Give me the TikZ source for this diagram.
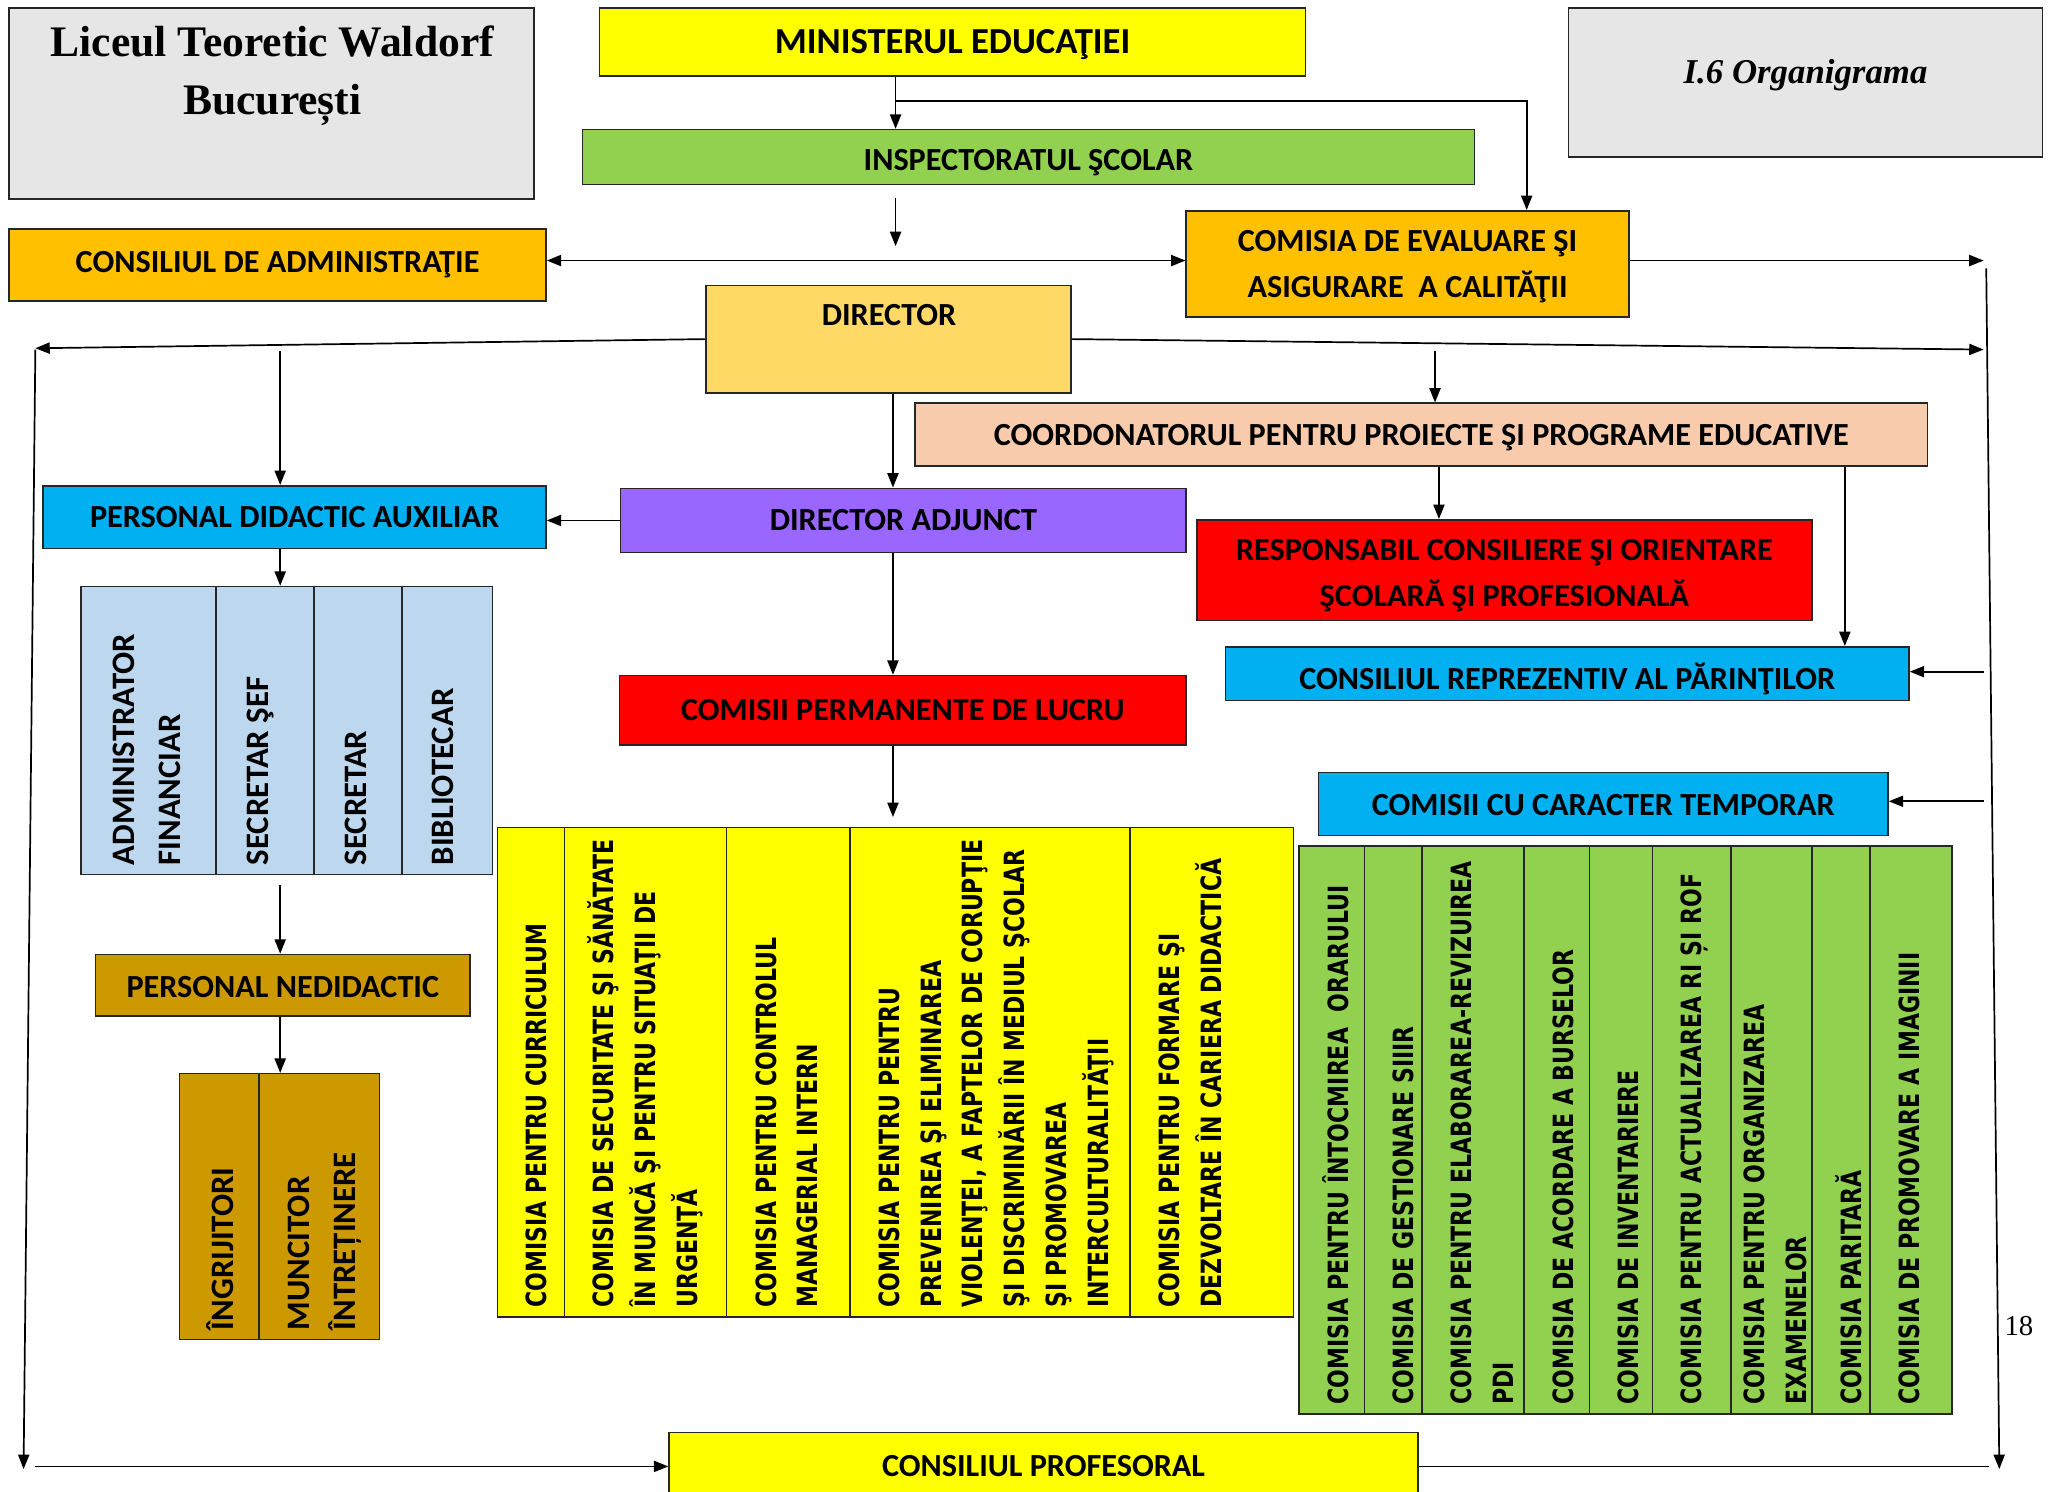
\documentclass[tikz,border=0pt]{standalone}
\usepackage{fontspec}
\setmainfont{Carlito}
\newfontfamily\dvs{DejaVu Sans}[FakeStretch=0.79]
\newfontfamily\tms{Liberation Serif}
\usetikzlibrary{arrows.meta}
\definecolor{cgray}{HTML}{E6E6E6}
\definecolor{cyel}{HTML}{FFFF00}
\definecolor{cgreen}{HTML}{92D050}
\definecolor{corange}{HTML}{FFC000}
\definecolor{cdir}{HTML}{FFD966}
\definecolor{cpeach}{HTML}{F8CBAD}
\definecolor{cblue}{HTML}{00B0F0}
\definecolor{cviolet}{HTML}{9966FF}
\definecolor{cred}{HTML}{FF0000}
\definecolor{clblue}{HTML}{BDD7EE}
\definecolor{cbrown}{HTML}{CC9900}
\tikzset{
 box/.style={draw=black!85, line width=1.2pt, rectangle, inner sep=0pt},
 btxt/.style={inner sep=0pt, align=center, font=\bfseries\fontsize{24.6}{35}\selectfont},
 colbox/.style={draw=black!85, line width=1.2pt, rectangle, inner sep=0pt},
 ptxt/.style={font=\dvs\bfseries\fontsize{21.3}{32}\selectfont, rotate=90, anchor=north west, inner sep=0pt, align=left},
 atxt/.style={font=\bfseries\fontsize{25}{35}\selectfont, rotate=90, anchor=north west, inner sep=0pt, align=left},
 con/.style={line width=1.3pt, draw=black},
 arr/.style={con, -{Triangle[length=11pt,width=8.5pt]}},
 arrb/.style={con, {Triangle[length=11pt,width=8.5pt]}-{Triangle[length=11pt,width=8.5pt]}},
}
\newcommand\bxe[6]{\node[box, fill=#6, minimum width=#3-#2, minimum height=#5-#4] (#1) at ({(#2+#3)/2},{(#4+#5)/2}) {};}
\newcommand\bx[8]{\bxe{#1}{#2}{#3}{#4}{#5}{#6}
 \node[btxt, yshift={-(#7)*1pt}] (#1t) at (#1.center) {#8};}
\newcommand\cl[9]{\node[colbox, fill=#6, minimum width=#3-#2, minimum height=#5-#4] (#1) at ({(#2+#3)/2},{(#4+#5)/2}) {};
 \node[#7] (#1t) at ({#2+#8},{#5-7}) {\rule{0pt}{1em}#9};}
\begin{document}
\begin{tikzpicture}[x=1pt,y=-1pt]
\useasboundingbox (0,0) rectangle (1568,1139);
% title boxes
\bxe{lic}{7}{408}{6}{152}{cgray}
\node[font=\tms\bfseries\fontsize{33.3}{44}\selectfont, align=center] (lict) at (208,58) {Liceul Teoretic Waldorf\\București};
\bxe{org}{1198}{1560}{6}{120}{cgray}
\node[font=\tms\bfseries\itshape\fontsize{26.6}{30}\selectfont] (orgt) at (1379,57) {I.6 Organigrama};
% main boxes
\bx{min}{458}{997}{6}{58}{cyel}{2}{\fontsize{28}{30}\selectfont MINISTERUL EDUCAŢIEI}
\bx{insp}{445}{1126}{99}{141}{cgreen}{4}{INSPECTORATUL ŞCOLAR}
\bx{cadm}{7}{417}{175}{230}{corange}{0}{CONSILIUL DE ADMINISTRAŢIE}
\bx{ceac}{906}{1244}{161}{242}{corange}{2}{COMISIA DE EVALUARE ŞI\\ASIGURARE\ \ A CALITĂŢII}
\bxe{dir}{539}{818}{218}{300}{cdir}
\node[btxt] (dirt) at (679,241) {DIRECTOR};
\bx{coord}{699}{1472}{308}{356}{cpeach}{2}{COORDONATORUL PENTRU PROIECTE ŞI PROGRAME EDUCATIVE}
\bx{pda}{33}{417}{371}{419}{cblue}{0}{PERSONAL DIDACTIC AUXILIAR}
\bx{dadj}{474}{906}{373}{422}{cviolet}{0}{DIRECTOR ADJUNCT}
\bx{resp}{914}{1384}{397}{474}{cred}{4}{RESPONSABIL CONSILIERE ŞI ORIENTARE\\ŞCOLARĂ ŞI PROFESIONALĂ}
\bx{crp}{936}{1458}{494}{535}{cblue}{4}{CONSILIUL REPREZENTIV AL PĂRINŢILOR}
\bx{cpl}{473}{906}{516}{569}{cred}{0}{COMISII PERMANENTE DE LUCRU}
\bx{pn}{73}{359}{729}{776}{cbrown}{1}{PERSONAL NEDIDACTIC}
\bx{cct}{1007}{1442}{590}{638}{cblue}{1}{COMISII CU CARACTER TEMPORAR}
\bx{cprof}{511}{1083}{1094}{1145}{cyel}{0}{CONSILIUL PROFESORAL}
% auxiliary columns
\cl{aux1}{62}{165}{448}{668}{clblue}{atxt}{15.5}{ADMINISTRATOR\\FINANCIAR}
\cl{aux2}{165}{240}{448}{668}{clblue}{atxt}{14.5}{SECRETAR ŞEF}
\cl{aux3}{240}{307}{448}{668}{clblue}{atxt}{14.5}{SECRETAR}
\cl{aux4}{307}{376}{448}{668}{clblue}{atxt}{14.5}{BIBLIOTECAR}
% nedidactic columns
\cl{ned1}{137}{198}{820}{1023}{cbrown}{atxt}{16.5}{ÎNGRIJITORI}
\cl{ned2}{198}{290}{820}{1023}{cbrown}{atxt}{13.5}{MUNCITOR\\ÎNTREȚINERE}
% permanent commissions
\cl{per1}{380}{431}{632}{1006}{cyel}{ptxt}{16.2}{COMISIA PENTRU CURRICULUM}
\cl{per2}{431}{555}{632}{1006}{cyel}{ptxt}{16.2}{COMISIA DE SECURITATE ŞI SĂNĂTATE\\ÎN MUNCĂ ŞI PENTRU SITUAŢII DE\\URGENŢĂ}
\cl{per3}{555}{649}{632}{1006}{cyel}{ptxt}{16.2}{COMISIA PENTRU CONTROLUL\\MANAGERIAL INTERN}
\cl{per4}{649}{863}{632}{1006}{cyel}{ptxt}{16.2}{COMISIA PENTRU PENTRU\\PREVENIREA ŞI ELIMINAREA\\VIOLENŢEI, A FAPTELOR DE CORUPŢIE\\ŞI DISCRIMINĂRII ÎN MEDIUL ŞCOLAR\\ŞI PROMOVAREA\\INTERCULTURALITĂŢII}
\cl{per5}{863}{988}{632}{1006}{cyel}{ptxt}{16.2}{COMISIA PENTRU FORMARE ŞI\\DEZVOLTARE ÎN CARIERA DIDACTICĂ}
% temporary commissions
\cl{tmp1}{992}{1042}{646}{1080}{cgreen}{ptxt}{16.2}{COMISIA PENTRU ÎNTOCMIREA\ \ ORARULUI}
\cl{tmp2}{1042}{1086}{646}{1080}{cgreen}{ptxt}{16.2}{COMISIA DE GESTIONARE SIIIR}
\cl{tmp3}{1086}{1164}{646}{1080}{cgreen}{ptxt}{16.2}{COMISIA PENTRU ELABORAREA-REVIZUIREA\\PDI}
\cl{tmp4}{1164}{1214}{646}{1080}{cgreen}{ptxt}{16.2}{COMISIA DE ACORDARE A BURSELOR}
\cl{tmp5}{1214}{1262}{646}{1080}{cgreen}{ptxt}{16.2}{COMISIA DE INVENTARIERE}
\cl{tmp6}{1262}{1322}{646}{1080}{cgreen}{ptxt}{16.2}{COMISIA PENTRU ACTUALIZAREA RI ȘI ROF}
\cl{tmp7}{1322}{1384}{646}{1080}{cgreen}{ptxt}{4.2}{COMISIA PENTRU ORGANIZAREA\\EXAMENELOR}
\cl{tmp8}{1384}{1428}{646}{1080}{cgreen}{ptxt}{16.2}{COMISIA PARITARĂ}
\cl{tmp9}{1428}{1491}{646}{1080}{cgreen}{ptxt}{16.2}{COMISIA DE PROMOVARE A IMAGINII}
% page number
\node[font=\tms\fontsize{22}{22}\selectfont] (pg) at (1542,1013) {18};
% coordinates
\coordinate (m1) at (684,77);
\coordinate (k1) at (1166,77);
\coordinate (f1) at (684,151);
\coordinate (f2) at (684,188);
\coordinate (h199) at (0,199);
\coordinate (r1) at (1515,199);
\coordinate (rv1) at (1517,205);
\coordinate (rv2) at (1527,1122);
\coordinate (l1) at (27,266);
\coordinate (r2) at (1515,267);
\coordinate (lv1) at (27,267);
\coordinate (lv2) at (18,1122);
\coordinate (b1) at (27,1120);
\coordinate (r3) at (1519,1120);
\coordinate (p1) at (214,268);
\coordinate (p2) at (1096,268);
\coordinate (p3) at (682,0);
\coordinate (p4) at (214,676);
\coordinate (p5) at (682,624);
\coordinate (p6) at (1099,0);
\coordinate (p7) at (1409,0);
\coordinate (r4) at (1515,513);
\coordinate (r5) at (1515,612);
% connectors
\draw[arr] (min.south -| m1) -- (insp.north -| m1);
\draw[arr] (m1) -- (k1) -- (k1 |- ceac.north);
\draw[arr] (f1) -- (f2);
\draw[arrb] (cadm.east |- h199) -- (ceac.west |- h199);
\draw[arr] (ceac.east |- h199) -- (r1);
\draw[arr] (rv1) -- (rv2);
\draw[arr] (dir.west) -- (l1);
\draw[arr] (dir.east) -- (r2);
\draw[arr] (lv1) -- (lv2);
\draw[arr] (b1) -- (b1 -| cprof.west);
\draw[con] (cprof.east |- b1) -- (r3);
\draw[arr] (p1) -- (p1 |- pda.north);
\draw[arr] (p2) -- (p2 |- coord.north);
\draw[arr] (dir.south -| p3) -- (dadj.north -| p3);
\draw[arr] (dadj.west) -- (dadj.west -| pda.east);
\draw[arr] (pda.south -| p1) -- (aux2.north -| p1);
\draw[arr] (p4) -- (p4 |- pn.north);
\draw[arr] (pn.south -| p1) -- (ned2.north -| p1);
\draw[arr] (dadj.south -| p3) -- (cpl.north -| p3);
\draw[arr] (cpl.south -| p3) -- (p5);
\draw[arr] (coord.south -| p6) -- (resp.north -| p6);
\draw[arr] (coord.south -| p7) -- (crp.north -| p7);
\draw[arr] (r4) -- (r4 -| crp.east);
\draw[arr] (r5) -- (r5 -| cct.east);
\end{tikzpicture}
\end{document}
